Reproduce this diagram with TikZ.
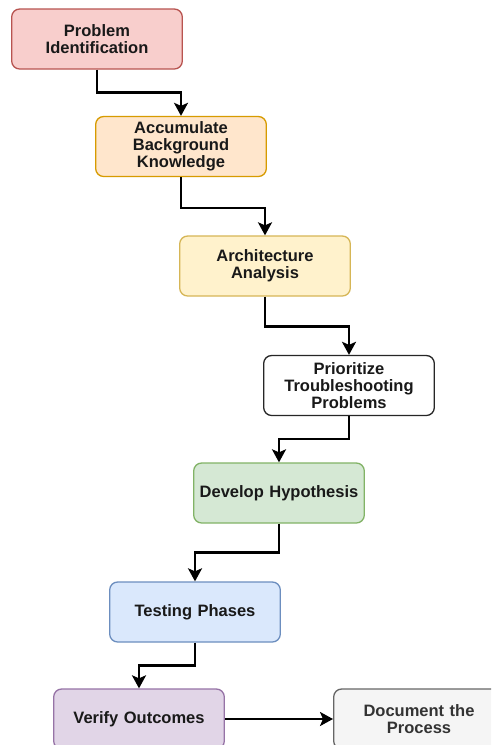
\documentclass[tikz,border=0pt]{standalone}
\usepackage{fontspec}
\setmainfont{Liberation Sans}
\usetikzlibrary{arrows.meta}
\definecolor{redF}{HTML}{F8CECC}\definecolor{redD}{HTML}{B85450}
\definecolor{orgF}{HTML}{FFE6CC}\definecolor{orgD}{HTML}{D79B00}
\definecolor{yelF}{HTML}{FFF2CC}\definecolor{yelD}{HTML}{D6B656}
\definecolor{grnF}{HTML}{D5E8D4}\definecolor{grnD}{HTML}{82B366}
\definecolor{bluF}{HTML}{DAE8FC}\definecolor{bluD}{HTML}{6C8EBF}
\definecolor{purF}{HTML}{E1D5E7}\definecolor{purD}{HTML}{9673A6}
\definecolor{gryF}{HTML}{F5F5F5}\definecolor{gryD}{HTML}{666666}
\definecolor{txt}{HTML}{333333}
\tikzset{
  box/.style={draw, line width=1.3pt, rounded corners=8pt, minimum width=168pt, minimum height=60pt,
    align=center, text width=164pt, font=\fontsize{16.5}{17}\selectfont\bfseries, text=black!90},
  flow/.style={line width=2.4pt, -{Stealth[length=13pt,width=14pt,inset=3pt]}}
}
\begin{document}
\begin{tikzpicture}[x=1pt,y=-1pt]
\useasboundingbox (0,0) rectangle (491,745);
\clip (0,0) rectangle (491,745);
\fill[white] (0,0) rectangle (491,745);
\node[box, fill=redF, draw=redD] (a) at (97,39) {Problem\\Identification};
\node[box, fill=orgF, draw=orgD] (b) at (181,146.5) {Accumulate\\Background\\Knowledge};
\node[box, fill=yelF, draw=yelD] (c) at (265,266) {Architecture\\Analysis};
\node[box, fill=white, draw=black!85] (d) at (349,385.5) {Prioritize\\Troubleshooting\\Problems};
\node[box, fill=grnF, draw=grnD] (e) at (279,493) {Develop Hypothesis};
\node[box, fill=bluF, draw=bluD] (f) at (195,612) {Testing Phases};
\node[box, fill=purF, draw=purD] (g) at (139,719) {Verify Outcomes};
\node[box, fill=gryF, draw=gryD, text=txt] (h) at (419,719) {Document the\\Process};
\draw[flow] (a.south) -- ++(0,23) -| (b.north);
\draw[flow] (b.south) -- ++(0,31) -| (c.north);
\draw[flow] (c.south) -- ++(0,30) -| (d.north);
\draw[flow] (d.south) -- ++(0,23) -| (e.north);
\draw[flow] (e.south) -- ++(0,29) -| (f.north);
\draw[flow] (f.south) -- ++(0,23) -| (g.north);
\draw[flow] (g.east) -- (h.west);
\end{tikzpicture}
\end{document}
